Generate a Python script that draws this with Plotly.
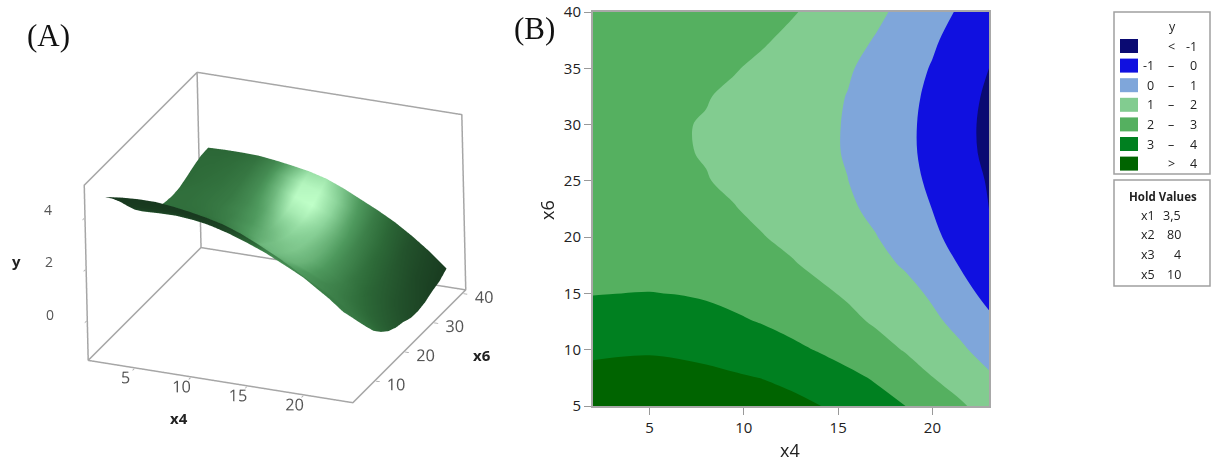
import plotly.graph_objects as go

x4_values = [2, 3.5, 5, 6.5, 8, 9.5, 11, 12.5, 14, 15.5, 17, 18.5, 20, 21.5, 23]
x6_values = [5, 7.5, 10, 12.5, 15, 17.5, 20, 22.5, 25, 27.5, 30, 32.5, 35, 37.5, 40]
y_x6_05_0 = [4.60, 4.68, 4.72, 4.72, 4.65, 4.55, 4.42, 4.26, 4.02, 3.72, 3.38, 3.02, 2.60, 2.12, 1.60]
y_x6_07_5 = [4.25, 4.30, 4.32, 4.28, 4.20, 4.10, 3.98, 3.78, 3.52, 3.24, 2.90, 2.47, 2.02, 1.58, 1.13]
y_x6_10_0 = [3.85, 3.90, 3.92, 3.87, 3.78, 3.62, 3.42, 3.20, 2.94, 2.62, 2.30, 1.96, 1.55, 1.13, 0.65]
y_x6_12_5 = [3.40, 3.45, 3.47, 3.40, 3.28, 3.13, 2.95, 2.72, 2.46, 2.20, 1.90, 1.53, 1.18, 0.73, 0.18]
y_x6_15_0 = [2.97, 3.00, 3.02, 2.98, 2.90, 2.75, 2.58, 2.38, 2.15, 1.90, 1.63, 1.30, 0.87, 0.33, -0.27]
y_x6_17_5 = [2.62, 2.65, 2.66, 2.60, 2.50, 2.38, 2.25, 2.08, 1.83, 1.55, 1.26, 0.93, 0.47, -0.05, -0.60]
y_x6_20_0 = [2.37, 2.38, 2.38, 2.34, 2.27, 2.15, 2.03, 1.82, 1.56, 1.30, 1.03, 0.63, 0.18, -0.33, -0.85]
y_x6_22_5 = [2.20, 2.22, 2.22, 2.20, 2.13, 2.03, 1.83, 1.60, 1.37, 1.13, 0.82, 0.42, -0.01, -0.50, -1.00]
y_x6_25_0 = [2.12, 2.14, 2.15, 2.13, 2.03, 1.87, 1.66, 1.46, 1.23, 1.01, 0.70, 0.28, -0.15, -0.60, -1.07]
y_x6_27_5 = [2.08, 2.10, 2.10, 2.06, 1.96, 1.76, 1.55, 1.36, 1.16, 0.95, 0.62, 0.20, -0.23, -0.70, -1.20]
y_x6_30_0 = [2.12, 2.12, 2.11, 2.06, 1.95, 1.76, 1.56, 1.37, 1.16, 0.95, 0.62, 0.20, -0.24, -0.72, -1.22]
y_x6_32_5 = [2.25, 2.25, 2.22, 2.16, 2.04, 1.85, 1.63, 1.43, 1.21, 0.98, 0.67, 0.25, -0.18, -0.65, -1.15]
y_x6_35_0 = [2.40, 2.40, 2.38, 2.32, 2.22, 2.05, 1.83, 1.60, 1.35, 1.08, 0.76, 0.36, -0.06, -0.52, -1.00]
y_x6_37_5 = [2.52, 2.52, 2.50, 2.45, 2.37, 2.25, 2.08, 1.83, 1.55, 1.26, 0.95, 0.55, 0.12, -0.37, -0.90]
y_x6_40_0 = [2.55, 2.57, 2.57, 2.55, 2.47, 2.37, 2.25, 2.07, 1.80, 1.48, 1.16, 0.80, 0.37, -0.12, -0.68]
y_grid = [y_x6_05_0, y_x6_07_5, y_x6_10_0, y_x6_12_5, y_x6_15_0, y_x6_17_5, y_x6_20_0, y_x6_22_5,
          y_x6_25_0, y_x6_27_5, y_x6_30_0, y_x6_32_5, y_x6_35_0, y_x6_37_5, y_x6_40_0]

# brightness of the 3D surface, 0 dark to 1 highlight
shade_05_0 = [.05, .05, .05, .05, .05, .05, .05, .08, .15, .35, .45, .45, .42, .40, .40]
shade_07_5 = [.05, .05, .05, .05, .05, .05, .08, .12, .22, .40, .45, .45, .42, .40, .40]
shade_10_0 = [.05, .05, .05, .05, .05, .08, .10, .20, .35, .50, .48, .44, .40, .38, .38]
shade_12_5 = [.06, .06, .06, .07, .08, .10, .15, .30, .50, .60, .55, .48, .42, .38, .35]
shade_15_0 = [.10, .10, .10, .12, .15, .20, .35, .60, .68, .65, .55, .46, .40, .35, .33]
shade_17_5 = [.20, .20, .20, .22, .25, .35, .50, .68, .70, .66, .55, .44, .37, .32, .28]
shade_20_0 = [.28, .28, .28, .30, .35, .45, .58, .70, .72, .66, .53, .42, .34, .28, .24]
shade_22_5 = [.32, .32, .33, .35, .40, .50, .62, .72, .74, .66, .52, .40, .31, .25, .20]
shade_25_0 = [.33, .33, .34, .37, .42, .52, .66, .76, .75, .65, .50, .37, .28, .22, .17]
shade_27_5 = [.33, .33, .35, .38, .45, .56, .72, .80, .76, .64, .48, .35, .26, .19, .14]
shade_30_0 = [.32, .33, .35, .38, .46, .60, .80, .85, .78, .63, .46, .33, .24, .17, .12]
shade_32_5 = [.30, .32, .34, .38, .48, .66, .90, .93, .80, .62, .44, .31, .22, .15, .10]
shade_35_0 = [.30, .31, .33, .37, .48, .70, .98, 1.0, .82, .60, .42, .30, .20, .13, .08]
shade_37_5 = [.30, .30, .32, .36, .47, .70, .95, .97, .80, .58, .40, .28, .18, .12, .07]
shade_40_0 = [.28, .29, .30, .34, .45, .65, .85, .88, .72, .54, .38, .26, .17, .11, .06]
shade_grid = [shade_05_0, shade_07_5, shade_10_0, shade_12_5, shade_15_0, shade_17_5, shade_20_0, shade_22_5,
              shade_25_0, shade_27_5, shade_30_0, shade_32_5, shade_35_0, shade_37_5, shade_40_0]

band_colors = ["#0a0a72", "#1010e0", "#7fa6da", "#82cc90", "#55b060", "#008020", "#006400"]
band_low = ["", "-1", "0", "1", "2", "3", ""]
band_sep = ["<", "–", "–", "–", "–", "–", ">"]
band_high = ["-1", "0", "1", "2", "3", "4", "4"]
hold_names = ["x1", "x2", "x3", "x5"]
hold_values = ["3,5", "80", "4", "10"]
y_ticks = [0, 2, 4]

W, H = 1212, 458
def px(x): return x / W
def py(y): return 1 - y / H

X3D = [0.9, 24.4]
Y3D = [2.3, 41.0]
Z3D = [-1.53, 5.29]

fig = go.Figure()

x0, x1 = X3D; y0, y1 = Y3D; z0, z1 = Z3D
gap = None
bx = [x0, x1, x1, x0, x0, x0, x0, x0, gap, x1, x1, x0]
by = [y0, y0, y1, y1, y0, y0, y1, y1, gap, y1, y1, y1]
bz = [z0, z0, z0, z0, z0, z1, z1, z0, gap, z0, z1, z1]
fig.add_trace(go.Scatter3d(x=bx, y=by, z=bz, mode="lines",
                           line=dict(color="#a6a6a6", width=3), hoverinfo="skip", showlegend=False))

fig.add_trace(go.Surface(
    x=x4_values, y=x6_values, z=y_grid, surfacecolor=shade_grid, cmin=0, cmax=1, showscale=False,
    colorscale=[[0, "#14301a"], [0.3, "#2d6a38"], [0.55, "#4f9a5e"], [0.8, "#8cd49a"], [1, "#bfffc8"]],
    lighting=dict(ambient=1.0, diffuse=0.0, specular=0.0, roughness=1.0, fresnel=0.0),
    hoverinfo="skip", contours=dict(x=dict(highlight=False), y=dict(highlight=False), z=dict(highlight=False)),
))

axis3d = dict(showgrid=False, zeroline=False, showbackground=False, showline=False,
              showspikes=False, ticks="outside", ticklen=4, tickcolor="#a6a6a6", tickwidth=2, tickangle=0,
              title=dict(text=""),
              tickfont=dict(family="Open Sans", size=14, color="#555555"))
E = 1.46
fig.update_layout(
    width=W, height=H, margin=dict(l=0, r=0, t=0, b=0), paper_bgcolor="white", plot_bgcolor="white",
    showlegend=False,
    scene=dict(
        domain=dict(x=[0, 550 / W], y=[0, 0.963]),
        aspectmode="manual", aspectratio=dict(x=1.312, y=1.312, z=0.883),
        xaxis=dict(axis3d, range=[x0 - 0.06, x1 + 0.06], tickvals=[5, 10, 15, 20]),
        yaxis=dict(axis3d, range=[y0 - 0.1, y1 + 0.1], tickvals=[10, 20, 30, 40]),
        zaxis=dict(axis3d, range=[z0 - 0.03, z1 + 0.03], tickvals=y_ticks, showticklabels=False),
        camera=dict(projection=dict(type="orthographic"),
                    eye=dict(x=0.364 * E, y=-0.832 * E, z=0.418 * E),
                    up=dict(x=-0.147, y=0.392, z=0.908),
                    center=dict(x=0, y=0, z=0)),
    ),
    xaxis=dict(domain=[px(593), px(989)], range=[2, 23], tickvals=[5, 10, 15, 20], ticks="outside", ticklen=7,
               tickcolor="#999", showgrid=False, zeroline=False, mirror=True, showline=True, linecolor="#a8a8a8", linewidth=2,
               automargin=False, tickfont=dict(family="Open Sans", size=15, color="#222")),
    yaxis=dict(domain=[py(406), py(12)], range=[5, 40], tickvals=[5, 10, 15, 20, 25, 30, 35, 40], ticks="outside", ticklen=7,
               tickcolor="#999", showgrid=False, zeroline=False, mirror=True, showline=True, linecolor="#a8a8a8", linewidth=2,
               automargin=False, tickfont=dict(family="Open Sans", size=15, color="#222")),
)

n = len(band_colors)
scale = []
for i, c in enumerate(band_colors):
    scale += [[i / n, c], [(i + 1) / n, c]]
fig.add_trace(go.Contour(
    x=x4_values, y=x6_values, z=y_grid, zmin=-2, zmax=5, colorscale=scale, showscale=False,
    autocontour=False, contours=dict(start=-1, end=4, size=1, coloring="fill"),
    line=dict(width=0, smoothing=1.0), hoverinfo="skip",
))

shapes = []
ann = []
def text(x, y, s, size=12, anchor="center", family="Open Sans", color="#222", angle=0):
    ann.append(dict(x=px(x), y=py(y), xref="paper", yref="paper", text=s, showarrow=False, xanchor=anchor,
                    yanchor="middle", textangle=angle, font=dict(family=family, size=size, color=color)))

text(48, 36, "(A)", 31, family="Liberation Serif", color="#111")
text(534, 29, "(B)", 31, family="Liberation Serif", color="#111")
text(179, 418, "<b>x4</b>", 15)
text(482, 355, "<b>x6</b>", 15)
text(16, 261, "<b>y</b>", 15)
text(790, 450, "x4", 18)
text(547, 210, "x6", 18, angle=-90)
for t, yy, xx in zip(y_ticks, [314, 261, 209], [50, 49, 48]):
    text(xx, yy, str(t), 14, color="#555555")

for box in [(1114, 12, 1210, 174), (1114, 180, 1210, 286)]:
    shapes.append(dict(type="rect", xref="paper", yref="paper", x0=px(box[0]), x1=px(box[2]), y0=py(box[1]), y1=py(box[3]),
                       line=dict(color="#a0a0a0", width=1.5)))
text(1172, 27, "y", 12.5, color="#222")
for i, c in enumerate(band_colors):
    yc = 46 + i * 19.6
    shapes.append(dict(type="rect", xref="paper", yref="paper", x0=px(1120), x1=px(1138), y0=py(yc - 7), y1=py(yc + 7),
                       fillcolor=c, line=dict(width=0)))
    if band_low[i]:
        text(1156, yc, band_low[i], 12.5, "right")
    text(1171, yc, band_sep[i], 12.5)
    text(1199, yc, band_high[i], 12.5, "right")
text(1163, 196, "<b>Hold Values</b>", 11.5)
for i, (nm, v) in enumerate(zip(hold_names, hold_values)):
    yc = 215 + i * 19.7
    text(1148, yc, nm, 12.5)
    text(1183, yc, v, 12.5, "right")

fig.update_layout(shapes=shapes, annotations=ann)
fig.write_html("out.html", post_script="document.body.style.margin='0';", config=dict(displayModeBar=False))
